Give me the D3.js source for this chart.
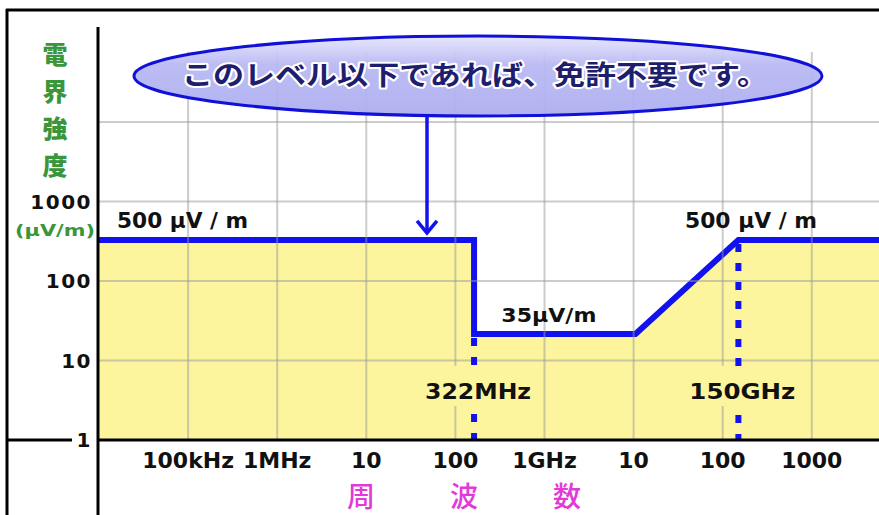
<!DOCTYPE html>
<html><head><meta charset="utf-8">
<script src="https://cdn.jsdelivr.net/npm/d3@7"></script>
<style>
html,body{margin:0;padding:0;background:#fff;}
svg{display:block;}
</style>
</head><body>
<svg id="chart" width="879" height="515"></svg>
<script>
// ---- data ----
const limitFreq  = [1e4, 1.62e8, 1.62e8, 1.05e10, 1.5e11, 1e13];   // Hz (as drawn)
const limitLevel = [328, 328, 21.5, 21.5, 328, 328];              // μV/m (as drawn)
const markerFreq = [1.62e8, 1.5e11];
const markerLabels = ["322MHz", "150GHz"];
const xTickValues = [1e5, 1e6, 1e7, 1e8, 1e9, 1e10, 1e11, 1e12];
const xTickLabels = ["100kHz", "1MHz", "10", "100", "1GHz", "10", "100", "1000"];
const yTickValues = [1, 10, 100, 1000];
const yTickLabels = ["1", "10", "100", "1000"];
const yGridValues = [10, 100, 1000, 10000];
const highLabel = "500 μV / m";
const lowLabel = "35μV/m";
const calloutFreq = 4.8e7;
const calloutText = "このレベル以下であれば、免許不要です。";
const yTitle = ["電", "界", "強", "度"];
const yUnit = "(μV/m)";
const xTitle = ["周", "波", "数"];

// ---- layout ----
const W = 879, H = 515;
const svg = d3.select("#chart");
const x = d3.scaleLog().domain([1e4, 1e13]).range([99, 99 + 9 * 89.1]);
const y = d3.scaleLog().domain([1, 1e4]).range([440, 122]);
const blue = "#1212ee";
const yellow = "#fcf59e";
const green = "#3a963a";
const magenta = "#e23ad8";
const latin = "'DejaVu Sans', sans-serif";
const cjk = "'Noto Sans CJK JP', sans-serif";

const defs = svg.append("defs");
defs.append("clipPath").attr("id", "plotclip").append("rect")
  .attr("x", 98).attr("y", 0).attr("width", W - 98).attr("height", 441);
const grad = defs.append("linearGradient").attr("id", "ellgrad")
  .attr("x1", 0).attr("y1", 0).attr("x2", 0).attr("y2", 1);
grad.append("stop").attr("offset", "0%").attr("stop-color", "#e6e6fc");
grad.append("stop").attr("offset", "35%").attr("stop-color", "#b8b8f3");
grad.append("stop").attr("offset", "100%").attr("stop-color", "#acacf0");

const pts = limitFreq.map((f, i) => [f, limitLevel[i]]);
const plot = svg.append("g").attr("clip-path", "url(#plotclip)");

// yellow area under the limit
plot.append("path").datum(pts)
  .attr("d", d3.area().x(d => x(d[0])).y0(y(1)).y1(d => y(d[1])))
  .attr("fill", yellow);

// gridlines
const grid = svg.append("g").attr("stroke", "#9a9a9a").attr("stroke-opacity", 0.5).attr("stroke-width", 2);
grid.selectAll(".vg").data(xTickValues).join("line")
  .attr("x1", d => x(d)).attr("x2", d => x(d)).attr("y1", 52).attr("y2", y(1));
grid.selectAll(".hg").data(yGridValues).join("line")
  .attr("x1", 98).attr("x2", W).attr("y1", d => y(d)).attr("y2", d => y(d));

// dashed marker lines
const idxLow = 2, idxHigh = 4;
svg.append("line")
  .attr("x1", x(markerFreq[0])).attr("x2", x(markerFreq[0]))
  .attr("y1", y(limitLevel[idxLow]) + 4).attr("y2", y(1))
  .attr("stroke", blue).attr("stroke-width", 6).attr("stroke-dasharray", "8,11");
svg.append("line")
  .attr("x1", x(markerFreq[1])).attr("x2", x(markerFreq[1]))
  .attr("y1", y(limitLevel[idxHigh]) + 4).attr("y2", y(1))
  .attr("stroke", blue).attr("stroke-width", 6).attr("stroke-dasharray", "8,11");

// marker labels with background
markerFreq.forEach((f, i) => {
  const cx = x(f) + 4;
  svg.append("rect").attr("x", cx - 54).attr("y", 366).attr("width", 108).attr("height", 40).attr("fill", yellow);
  svg.append("text").attr("x", cx).attr("y", 399)
    .attr("text-anchor", "middle").attr("font-family", latin).attr("font-weight", "bold")
    .attr("font-size", 22).attr("textLength", 106).attr("lengthAdjust", "spacingAndGlyphs")
    .attr("fill", "#111").text(markerLabels[i]);
});

// limit line
plot.append("path").datum(pts)
  .attr("d", d3.line().x(d => x(d[0])).y(d => y(d[1])))
  .attr("fill", "none").attr("stroke", blue).attr("stroke-width", 6).attr("stroke-linejoin", "miter");

// frame & axes
const ax = svg.append("g").attr("stroke", "#000").attr("stroke-width", 3);
ax.append("line").attr("x1", 7).attr("x2", 7).attr("y1", 9).attr("y2", H);
ax.append("line").attr("x1", 6).attr("x2", W).attr("y1", 10).attr("y2", 10);
ax.append("line").attr("x1", 7).attr("x2", 72).attr("y1", y(1)).attr("y2", y(1));
ax.append("line").attr("x1", 98).attr("x2", W).attr("y1", y(1)).attr("y2", y(1));
ax.append("line").attr("x1", 98).attr("x2", 98).attr("y1", 27).attr("y2", H);

// y tick labels
svg.append("g").selectAll("text").data(yTickValues).join("text")
  .attr("x", 92).attr("y", d => y(d)).attr("dy", "0.36em")
  .attr("text-anchor", "end").attr("font-family", latin).attr("font-weight", "bold")
  .attr("font-size", 20).attr("letter-spacing", 1.5).attr("fill", "#111")
  .text((d, i) => yTickLabels[i]);

// x tick labels
svg.append("g").selectAll("text").data(xTickValues).join("text")
  .attr("x", d => x(d)).attr("y", 468)
  .attr("text-anchor", "middle").attr("font-family", latin).attr("font-weight", "bold")
  .attr("font-size", 22).attr("fill", "#111")
  .text((d, i) => xTickLabels[i]);

// axis titles
svg.append("g").selectAll("text").data(yTitle).join("text")
  .attr("x", 55).attr("y", (d, i) => [55, 92, 129, 166][i]).attr("dy", "0.36em")
  .attr("text-anchor", "middle").attr("font-family", cjk).attr("font-weight", "900")
  .attr("font-size", 25).attr("fill", green).text(d => d);
svg.append("text").attr("x", 55).attr("y", 236)
  .attr("text-anchor", "middle").attr("font-family", latin).attr("font-weight", "bold")
  .attr("font-size", 15).attr("textLength", 80).attr("lengthAdjust", "spacingAndGlyphs")
  .attr("fill", green).text(yUnit);
svg.append("g").selectAll("text").data(xTitle).join("text")
  .attr("x", (d, i) => [361, 464, 567][i]).attr("y", 497).attr("dy", "0.36em")
  .attr("text-anchor", "middle").attr("font-family", cjk).attr("font-weight", "500")
  .attr("font-size", 28).attr("fill", magenta).text(d => d);

// level labels
const lblStyle = s => s.attr("font-family", latin).attr("font-weight", "bold").attr("fill", "#111");
svg.append("text").attr("x", 117).attr("y", y(limitLevel[0]) - 12)
  .attr("font-size", 21).attr("textLength", 131).attr("lengthAdjust", "spacingAndGlyphs")
  .call(lblStyle).text(highLabel);
svg.append("text").attr("x", 685).attr("y", y(limitLevel[5]) - 12)
  .attr("font-size", 21).attr("textLength", 132).attr("lengthAdjust", "spacingAndGlyphs")
  .call(lblStyle).text(highLabel);
svg.append("text").attr("x", Math.sqrt(x(limitFreq[2]) * x(limitFreq[3]))).attr("y", y(limitLevel[2]) - 12)
  .attr("text-anchor", "middle")
  .attr("font-size", 20).attr("textLength", 95).attr("lengthAdjust", "spacingAndGlyphs")
  .call(lblStyle).text(lowLabel);

// callout ellipse
svg.append("ellipse").attr("cx", 478).attr("cy", 76).attr("rx", 344).attr("ry", 40)
  .attr("fill", "url(#ellgrad)").attr("fill-opacity", 0.93)
  .attr("stroke", "#1010d8").attr("stroke-width", 3);
svg.append("text").attr("x", 182).attr("y", 75).attr("dy", "0.36em")
  .attr("font-family", cjk).attr("font-weight", "bold").attr("font-size", 27)
  .attr("textLength", 586).attr("lengthAdjust", "spacingAndGlyphs")
  .attr("fill", "#1e1e6e").attr("stroke", "#fff").attr("stroke-width", 4)
  .attr("paint-order", "stroke").attr("stroke-linejoin", "round")
  .text(calloutText);

// arrow
const axp = x(calloutFreq), tipY = y(limitLevel[0]) - 7;
svg.append("line").attr("x1", axp).attr("x2", axp).attr("y1", 116).attr("y2", tipY)
  .attr("stroke", blue).attr("stroke-width", 3.5);
svg.append("path")
  .attr("d", `M${axp - 10},${tipY - 12} L${axp},${tipY} L${axp + 10},${tipY - 12}`)
  .attr("fill", "none").attr("stroke", blue).attr("stroke-width", 3.5).attr("stroke-linejoin", "miter");
</script>
</body></html>
